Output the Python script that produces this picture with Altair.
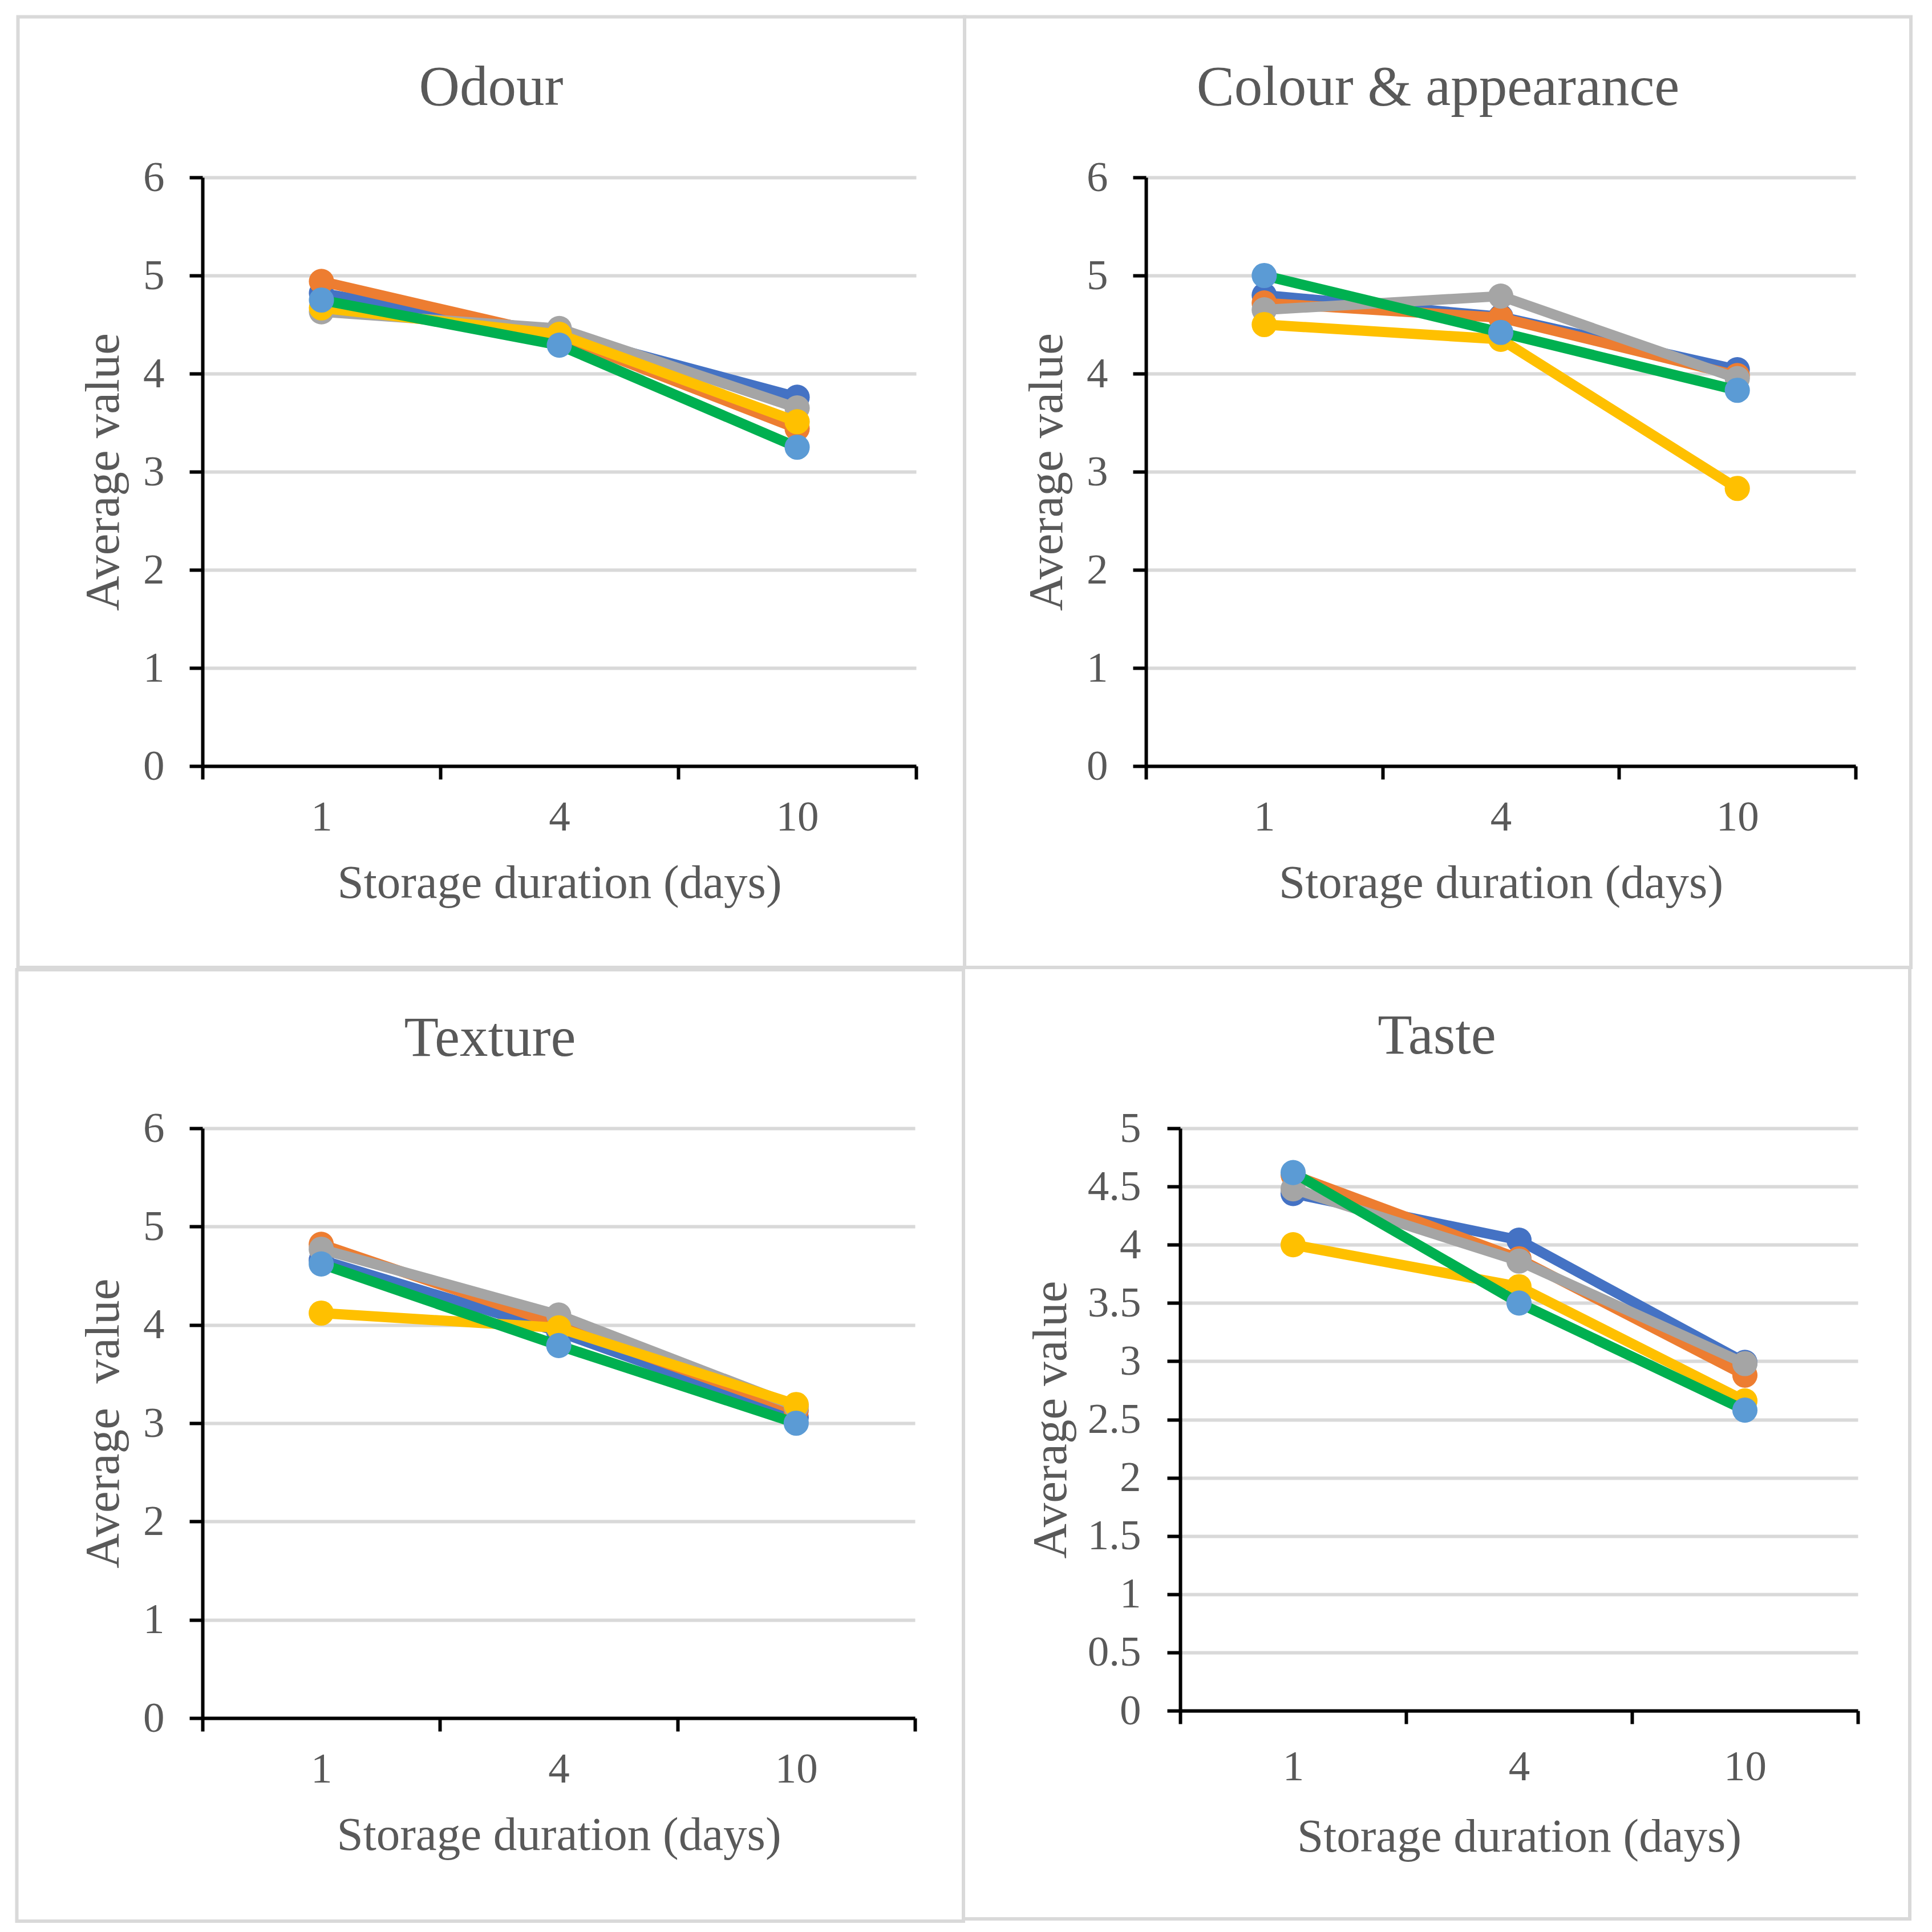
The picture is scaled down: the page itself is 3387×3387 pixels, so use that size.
import altair as alt
import pandas as pd

# ---------------- data ----------------
days = ["1", "4", "10"]
series = ["Series 1", "Series 2", "Series 3", "Series 4", "Series 5"]
line_colors = ["#4472C4", "#ED7D31", "#A5A5A5", "#FFC000", "#00B050"]
marker_colors = ["#4472C4", "#ED7D31", "#A5A5A5", "#FFC000", "#5B9BD5"]

odour_s1 = [4.82, 4.41, 3.76]
odour_s2 = [4.94, 4.38, 3.44]
odour_s3 = [4.63, 4.46, 3.65]
odour_s4 = [4.67, 4.40, 3.51]
odour_s5 = [4.75, 4.29, 3.25]

colour_s1 = [4.80, 4.58, 4.04]
colour_s2 = [4.72, 4.57, 3.98]
colour_s3 = [4.65, 4.79, 3.95]
colour_s4 = [4.50, 4.35, 2.83]
colour_s5 = [5.00, 4.42, 3.83]

texture_s1 = [4.66, 3.93, 3.06]
texture_s2 = [4.82, 4.00, 3.13]
texture_s3 = [4.77, 4.10, 3.17]
texture_s4 = [4.12, 3.97, 3.19]
texture_s5 = [4.62, 3.79, 3.00]

taste_s1 = [4.44, 4.04, 2.99]
taste_s2 = [4.60, 3.88, 2.88]
taste_s3 = [4.48, 3.86, 2.98]
taste_s4 = [4.00, 3.64, 2.66]
taste_s5 = [4.62, 3.50, 2.58]

y_ticks_6 = [0, 1, 2, 3, 4, 5, 6]
y_ticks_5 = [0, 0.5, 1, 1.5, 2, 2.5, 3, 3.5, 4, 4.5, 5]

FONT = "Liberation Serif"
TXT = "#595959"
GRID = "#D9D9D9"
BORDER_W = 6


def panel(title, vals, ymax, yvals, ytitle, W, H, box, title_pos,
          ylabelpad, ytitlepad, xlabelpad=30, xtitlepad=37):
    x_enc = alt.X(
        "day:N", sort=days,
        scale=alt.Scale(type="band", paddingInner=0, paddingOuter=0),
        axis=alt.Axis(
            title="Storage duration (days)", tickBand="extent", grid=False,
            labelAngle=0, labelFont=FONT, labelFontSize=75, labelColor=TXT,
            labelPadding=xlabelpad, tickSize=23, tickWidth=6,
            tickColor="black", domainColor="black", domainWidth=6,
            titleFont=FONT, titleFontSize=83, titleFontWeight="normal",
            titleColor=TXT, titlePadding=xtitlepad,
        ),
    )
    y_enc = alt.Y(
        "value:Q",
        scale=alt.Scale(domain=[0, ymax], nice=False, zero=True),
        axis=alt.Axis(
            title=ytitle, values=yvals, format="~g", grid=True,
            gridColor=GRID, gridWidth=6,
            labelFont=FONT, labelFontSize=75, labelColor=TXT,
            labelPadding=ylabelpad, tickSize=23, tickWidth=6,
            tickColor="black", domainColor="black", domainWidth=6,
            titleFont=FONT, titleFontSize=85, titleFontWeight="normal",
            titleColor=TXT, titlePadding=ytitlepad,
        ),
    )
    one = pd.DataFrame({"k": [0]})
    layers = [
        alt.Chart(one).mark_rect(
            fillOpacity=0, stroke=GRID, strokeWidth=BORDER_W
        ).encode(
            x=alt.value(box[0]), x2=alt.value(W + box[1]),
            y=alt.value(box[2]), y2=alt.value(H + box[3]),
        )
    ]
    for i, s in enumerate(series):
        df = pd.DataFrame({"day": days, "value": vals[i], "series": s})
        base = alt.Chart(df)
        layers.append(
            base.mark_line(color=line_colors[i], strokeWidth=18,
                           strokeJoin="round").encode(x=x_enc, y=y_enc)
        )
        layers.append(
            base.mark_point(filled=True, size=1950, opacity=1,
                            color=marker_colors[i]).encode(x=x_enc, y=y_enc)
        )
    layers.append(
        alt.Chart(one).mark_text(
            font=FONT, fontSize=99, color=TXT, align="center",
            baseline="alphabetic"
        ).encode(
            x=alt.value(title_pos[0]), y=alt.value(title_pos[1]),
            text=alt.value(title),
        )
    )
    return alt.layer(*layers).properties(width=W, height=H)


odour = panel("Odour",
              [odour_s1, odour_s2, odour_s3, odour_s4, odour_s5],
              6, y_ticks_6, "Average value", 1251, 1032,
              (-323.5, 85, -281.5, 353), (506, -127), 44, 25)
colour = panel("Colour & appearance",
               [colour_s1, colour_s2, colour_s3, colour_s4, colour_s5],
               6, y_ticks_6, "Average value", 1244, 1032,
               (-318, 97, -281.5, 353), (512, -127), 44, 25)
texture = panel("Texture",
                [texture_s1, texture_s2, texture_s3, texture_s4, texture_s5],
                6, y_ticks_6, "Average \u00a0value", 1249, 1034,
                (-325.5, 85, -278, 356), (504, -127), 44, 25)
taste = panel("Taste",
              [taste_s1, taste_s2, taste_s3, taste_s4, taste_s5],
              5, y_ticks_5, "Average value", 1188, 1021,
              (-380, 91, -282, 365), (450, -131), 46, 20,
              xlabelpad=39, xtitlepad=44)

GAP = -BORDER_W
chart = alt.vconcat(
    alt.hconcat(odour, colour, spacing=GAP),
    alt.hconcat(texture, taste, spacing=GAP),
    spacing=GAP,
).properties(
    padding={"left": 18, "top": 18, "right": 18, "bottom": 18},
    background="white",
).configure_view(stroke=None)

chart.save("out.html", embed_options={"renderer": "svg", "actions": False})
